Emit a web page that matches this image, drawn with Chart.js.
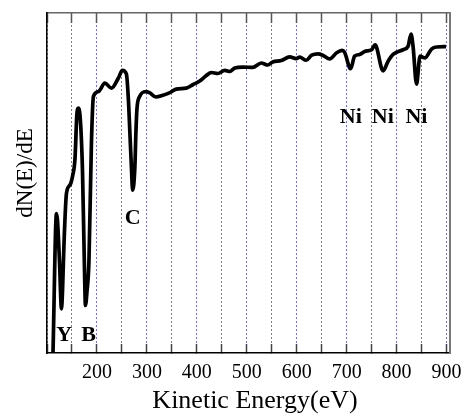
<!DOCTYPE html>
<html>
<head>
<meta charset="utf-8">
<script src="https://cdn.jsdelivr.net/npm/chart.js@4"></script>
<style>
  body { margin: 0; background: #fff; }
  canvas { display: block; }
</style>
</head>
<body>
<canvas id="aes" width="464" height="416"></canvas>
<script>
// AES spectrum, dN(E)/dE in arbitrary units

var energy = [112, 119, 121, 125, 129, 131, 134, 139, 146, 151, 156, 160, 162.5, 166, 171, 175, 177, 180, 184, 189, 193,
    203, 216, 229, 243, 251, 259, 263, 266, 269, 271.5, 276, 278, 280, 285, 298, 305, 318, 332, 345, 359, 379, 392,
    405, 419, 429, 442, 456, 466, 476, 492, 512, 529, 542, 552, 569, 586, 599, 606, 619, 630, 643, 653, 666, 680,
    691, 696, 708, 716, 726, 736, 750, 757, 773, 783, 793, 813, 823, 829, 833, 840, 847, 857, 870, 880, 899];
var intensity = [0, 41, 39, 27, 13, 18, 32, 47, 49.4, 51.9, 57, 70.6, 72, 70, 54, 25, 14, 18, 27, 62, 75.5,
    76.9, 79.4, 77.9, 80.9, 83.1, 82, 74.5, 64.7, 54.8, 47.9, 54.8, 64.7, 71.5, 75.3, 76.9, 76.6, 75.3, 75.8, 76.5, 77.6, 77.9, 78.9,
    79.9, 81.6, 82.5, 82.2, 83.1, 82.8, 83.8, 84.1, 84.0, 85.3, 84.7, 85.6, 86.0, 87.1, 86.6, 87.0, 86.1, 87.6, 88.0, 87.5, 86.5, 88.3,
    89.0, 88.4, 83.6, 87.3, 87.8, 88.7, 89.2, 90.6, 83.0, 85.8, 87.8, 89.2, 90.2, 93.8, 90.2, 79.1, 87.3, 86.8, 89.4, 90.0, 90.1];

var xTicks = [100, 150, 200, 250, 300, 350, 400, 450, 500, 550, 600, 650, 700, 750, 800, 850, 900];

// peak labels, anchored in data units (energy, baseline of text)
var peakNames = ["Y", "B", "C", "Ni", "Ni", "Ni"];
var peakEnergy = [134.4, 183.5, 271.8, 708.3, 772.5, 839.7];
var peakLevel = [3.5, 3.5, 37.8, 67.6, 67.6, 67.6];

var xTitle = "Kinetic Energy(eV)";
var yTitle = "dN(E)/dE";

var serif = "'Liberation Serif', 'Times New Roman', serif";

var points = energy.map(function (e, i) { return { x: e, y: intensity[i] }; });

var textLayer = {
    id: "textLayer",
    afterDatasetsDraw: function (chart) {
        var ctx = chart.ctx;
        var xs = chart.scales.x, ys = chart.scales.y;
        ctx.save();
        ctx.fillStyle = "#000";
        ctx.textAlign = "center";
        ctx.textBaseline = "alphabetic";
        ctx.font = "bold 22px " + serif;
        peakNames.forEach(function (name, i) {
            ctx.fillText(name, xs.getPixelForValue(peakEnergy[i]), ys.getPixelForValue(peakLevel[i]));
        });

        // axis titles
        ctx.textBaseline = "middle";
        ctx.font = "26px " + serif;
        ctx.fillText(xTitle, 255, 401);
        ctx.translate(26, 173);
        ctx.rotate(-Math.PI / 2);
        ctx.font = "23px " + serif;
        ctx.fillText(yTitle, 0, 0);
        ctx.restore();
    }
};

var config = {
    type: "line",
    data: {
        datasets: [{
            data: points,
            borderColor: "#000",
            borderWidth: 3.7,
            pointRadius: 0,
            fill: false,
            cubicInterpolationMode: "monotone"
        }]
    },
    options: {
        responsive: false,
        animation: false,
        layout: { padding: 0 },
        plugins: {
            legend: { display: false },
            tooltip: { enabled: false }
        },
        scales: {
            x: {
                type: "linear",
                position: "bottom",
                min: 100,
                max: 907,
                afterBuildTicks: function (scale) {
                    scale.ticks = xTicks.map(function (v) { return { value: v }; });
                },
                afterFit: function (scale) {
                    scale.height = 63;
                    scale.paddingLeft = 0;
                    scale.paddingRight = 0;
                },
                grid: {
                    color: "rgb(110,110,255)",
                    lineWidth: 1,
                    tickColor: "#444",
                    tickLength: -9,
                    tickWidth: 1.5
                },
                border: { color: "#000", width: 1.5, dash: [2, 2] },
                ticks: {
                    autoSkip: false,
                    maxRotation: 0,
                    padding: 17,
                    color: "#000",
                    font: { size: 20, family: serif },
                    callback: function (v) { return (v % 100 === 0 && v > 100) ? v : ""; }
                }
            },
            x2: {
                type: "linear",
                axis: "x",
                position: "top",
                min: 100,
                max: 907,
                afterBuildTicks: function (scale) {
                    scale.ticks = xTicks.map(function (v) { return { value: v }; });
                },
                afterFit: function (scale) {
                    scale.height = 13;
                    scale.paddingLeft = 0;
                    scale.paddingRight = 0;
                },
                grid: {
                    drawOnChartArea: false,
                    tickColor: "#555",
                    tickLength: -10,
                    tickWidth: 1.5
                },
                border: { color: "#666", width: 1.5 },
                ticks: { display: false }
            },
            y: {
                position: "left",
                min: 0,
                max: 100,
                afterFit: function (scale) { scale.width = 47; },
                grid: { drawOnChartArea: false, drawTicks: false },
                border: { color: "#000", width: 1.5 },
                ticks: { display: false }
            },
            y2: {
                position: "right",
                axis: "y",
                min: 0,
                max: 100,
                afterFit: function (scale) { scale.width = 14; },
                grid: { drawOnChartArea: false, drawTicks: false },
                border: { color: "#777", width: 2 },
                ticks: { display: false }
            }
        }
    },
    plugins: [textLayer]
};

var aesChart = new Chart(document.getElementById("aes"), config);
</script>
</body>
</html>
